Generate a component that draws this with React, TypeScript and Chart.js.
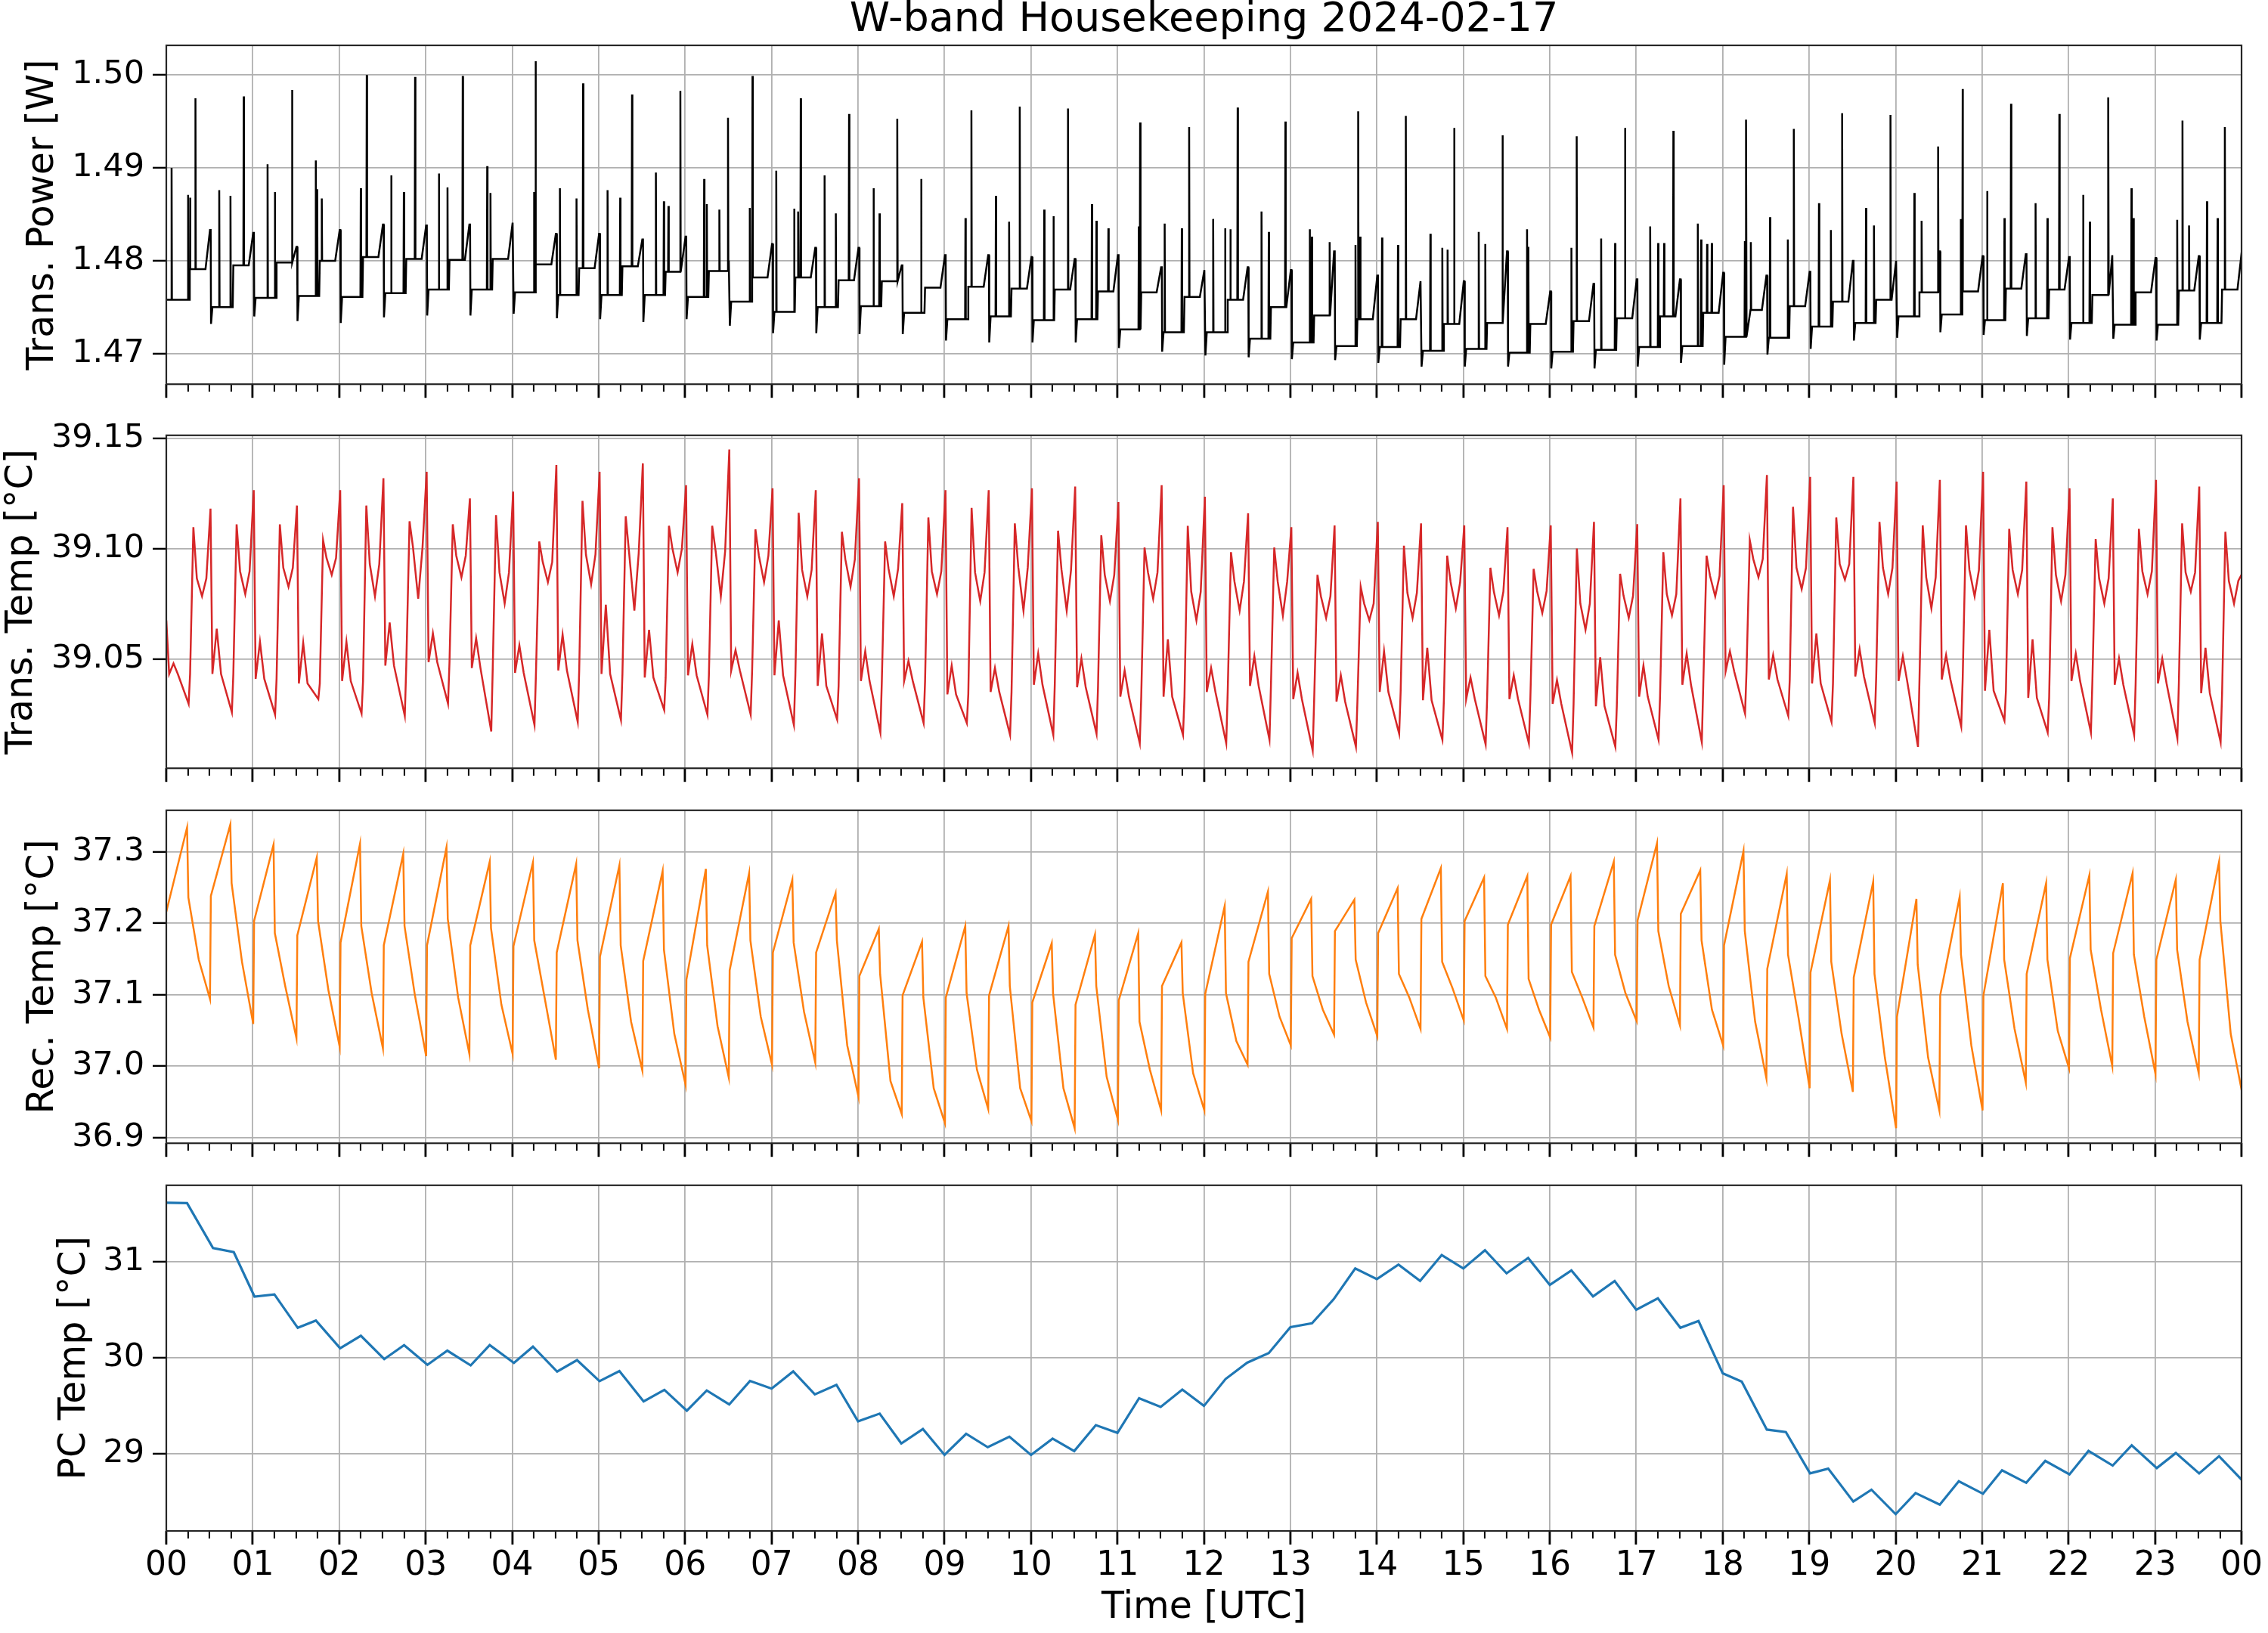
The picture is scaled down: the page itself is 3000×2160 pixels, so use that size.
import { useEffect, useRef } from 'react';
import { Chart, registerables } from 'chart.js';

Chart.register(...registerables);

const FONT = '"DejaVu Sans", "Liberation Sans", sans-serif';
const CYCLE = 0.5; // one heater cycle, hours

const hourLabels = [
  '00', '01', '02', '03', '04', '05', '06', '07', '08', '09', '10', '11',
  '12', '13', '14', '15', '16', '17', '18', '19', '20', '21', '22', '23', '00',
];

const powerTicks = [1.47, 1.48, 1.49, 1.5];
const transTicks = [39.05, 39.1, 39.15];
const recTicks = [36.9, 37.0, 37.1, 37.2, 37.3];
const pcTicks = [29, 30, 31];

// Trans. Power [W], one entry per half-hour cycle
const powerDip = [
  1.4758, 1.4732, 1.474, 1.4735, 1.4733, 1.4739, 1.4741, 1.4741, 1.4743, 1.4738,
  1.4737, 1.4734, 1.4737, 1.473, 1.4722, 1.4722, 1.4721, 1.4721, 1.4714, 1.4712,
  1.4712, 1.4712, 1.4706, 1.4702, 1.4698, 1.4696, 1.4694, 1.4693, 1.469, 1.4686,
  1.4686, 1.4686, 1.4684, 1.4684, 1.4686, 1.469, 1.4688, 1.4699, 1.4705, 1.4714,
  1.4717, 1.4723, 1.472, 1.4719, 1.4715, 1.4716, 1.4714, 1.4715,
];
const powerLow = [
  1.4758, 1.475, 1.476, 1.4762, 1.4761, 1.4765, 1.4769, 1.4769, 1.4766, 1.4763,
  1.4763, 1.4763, 1.4761, 1.4756, 1.4745, 1.475, 1.4751, 1.4744, 1.4737, 1.474,
  1.4736, 1.4737, 1.4726, 1.4723, 1.4723, 1.4716, 1.4712, 1.4708, 1.4707, 1.4703,
  1.4705, 1.4701, 1.4702, 1.4704, 1.4707, 1.4708, 1.4718, 1.4717, 1.4729, 1.4733,
  1.474, 1.4742, 1.4736, 1.4738, 1.4733, 1.4731, 1.4731, 1.4733,
];
const powerHigh = [
  1.4791, 1.4795, 1.4798, 1.48, 1.4804, 1.4802, 1.4801, 1.4802, 1.4796, 1.4792,
  1.4794, 1.4788, 1.4789, 1.4782, 1.4782, 1.4779, 1.4778, 1.4771, 1.4772, 1.477,
  1.4769, 1.4767, 1.4766, 1.4761, 1.4758, 1.475, 1.4741, 1.4737, 1.4737, 1.4732,
  1.4733, 1.4732, 1.4735, 1.4738, 1.474, 1.4744, 1.4747, 1.4751, 1.4756, 1.4758,
  1.4766, 1.4767, 1.477, 1.4769, 1.4763, 1.4766, 1.4768, 1.4769,
];
const powerRamp = [
  1.4833, 1.483, 1.4815, 1.4833, 1.4839, 1.4838, 1.4839, 1.4841, 1.4829, 1.4829,
  1.4823, 1.4826, 1.48, 1.4818, 1.4814, 1.4814, 1.4795, 1.4806, 1.4806, 1.4804,
  1.4802, 1.4806, 1.4793, 1.479, 1.4793, 1.479, 1.481, 1.4784, 1.4778, 1.4778,
  1.481, 1.4767, 1.4775, 1.478, 1.478, 1.4787, 1.4784, 1.4788, 1.48, 1.48,
  1.481, 1.4805, 1.4807, 1.4804, 1.4806, 1.4803, 1.4805, 1.4812,
];
// [hour, W]
const powerSpikes: [number, number][] = [
  [0.061, 1.49], [0.252, 1.4871], [0.275, 1.4868], [0.337, 1.4975],
  [0.612, 1.4876], [0.742, 1.487], [0.895, 1.4977],
  [1.171, 1.4904], [1.255, 1.4874], [1.454, 1.4984],
  [1.729, 1.4908], [1.745, 1.4877], [1.798, 1.4867],
  [2.249, 1.4878], [2.318, 1.5],
  [2.601, 1.4892], [2.747, 1.4874], [2.877, 1.4998],
  [3.152, 1.4894], [3.252, 1.4879], [3.428, 1.4999],
  [3.711, 1.4902], [3.749, 1.4873],
  [4.254, 1.4874], [4.269, 1.5015],
  [4.552, 1.4878], [4.744, 1.4867], [4.82, 1.4991],
  [5.103, 1.4876], [5.249, 1.4868], [5.386, 1.4979],
  [5.662, 1.4895], [5.754, 1.4864], [5.807, 1.4859], [5.945, 1.4983],
  [6.22, 1.4888], [6.251, 1.4861], [6.396, 1.4855], [6.496, 1.4954],
  [6.748, 1.4857], [6.779, 1.4999],
  [7.054, 1.4897], [7.261, 1.4856], [7.307, 1.4853], [7.337, 1.4975],
  [7.613, 1.4892], [7.743, 1.4851], [7.896, 1.4958],
  [8.179, 1.4878], [8.248, 1.4851], [8.454, 1.4953],
  [8.73, 1.4888],
  [9.242, 1.4846], [9.311, 1.4962],
  [9.594, 1.487], [9.747, 1.4842], [9.87, 1.4966],
  [10.153, 1.4855], [10.26, 1.4848], [10.428, 1.4964],
  [10.704, 1.4861], [10.757, 1.4843], [10.895, 1.4835],
  [11.247, 1.4837], [11.262, 1.4949],
  [11.546, 1.484], [11.744, 1.4835], [11.829, 1.4944],
  [12.107, 1.4845], [12.245, 1.4835], [12.306, 1.4834], [12.39, 1.4965],
  [12.666, 1.4853], [12.75, 1.4831], [12.942, 1.495],
  [13.225, 1.4834], [13.248, 1.4826], [13.455, 1.482],
  [13.753, 1.4817], [13.784, 1.4961], [13.807, 1.4826],
  [14.06, 1.4825], [14.244, 1.4817], [14.335, 1.4956],
  [14.619, 1.4829], [14.757, 1.4814], [14.818, 1.4812], [14.894, 1.4943],
  [15.178, 1.4831], [15.254, 1.4818], [15.453, 1.4935],
  [15.737, 1.4834], [15.752, 1.4815],
  [16.25, 1.4814], [16.311, 1.4934],
  [16.594, 1.4824], [16.755, 1.4819], [16.87, 1.4943],
  [17.161, 1.4837], [17.253, 1.4819], [17.322, 1.4819], [17.429, 1.494],
  [17.712, 1.484], [17.75, 1.4823], [17.819, 1.4818], [17.873, 1.4819],
  [18.256, 1.4821], [18.271, 1.4952], [18.325, 1.482],
  [18.547, 1.4847], [18.753, 1.4823], [18.822, 1.4942],
  [19.113, 1.4862], [19.251, 1.4833], [19.381, 1.4959],
  [19.657, 1.4857], [19.749, 1.4838], [19.94, 1.4957],
  [20.216, 1.4873], [20.3, 1.4843], [20.491, 1.4923],
  [20.752, 1.4845], [20.775, 1.4985],
  [21.058, 1.4875], [21.258, 1.4846], [21.334, 1.4969],
  [21.618, 1.4862], [21.755, 1.4846], [21.893, 1.4958],
  [22.168, 1.4871], [22.245, 1.4842], [22.46, 1.4976],
  [22.727, 1.4878], [22.75, 1.4846],
  [23.256, 1.4844], [23.317, 1.4951], [23.393, 1.4838],
  [23.6, 1.4864], [23.723, 1.4846], [23.807, 1.4944],
];

// Trans. Temp [°C], per cycle
const tempStart = 39.0675;
const tempLowMid = [
  39.0432, 39.0432, 39.041, 39.0389, 39.04, 39.047, 39.0486, 39.0459, 39.0437, 39.0448,
  39.0432, 39.0416, 39.0426, 39.0448, 39.0426, 39.0378, 39.04, 39.04, 39.034, 39.0351,
  39.0383, 39.0372, 39.0329, 39.0329, 39.0351, 39.0378, 39.0318, 39.0307, 39.0351, 39.0313,
  39.0318, 39.0318, 39.0297, 39.0286, 39.0329, 39.0383, 39.0443, 39.0407, 39.0389, 39.0421,
  39.04, 39.0407, 39.0356, 39.0324, 39.04, 39.0383, 39.0389, 39.0345,
];
const tempLowHi = [
  39.048, 39.0637, 39.0578, 39.0573, 39.0578, 39.0665, 39.0616, 39.0594, 39.0562, 39.061,
  39.0746, 39.0632, 39.0567, 39.054, 39.0675, 39.0616, 39.0535, 39.0491, 39.047, 39.0459,
  39.0524, 39.0502, 39.0448, 39.0589, 39.0459, 39.0513, 39.0437, 39.0426, 39.0535, 39.0551,
  39.0416, 39.0426, 39.0405, 39.0508, 39.047, 39.0524, 39.0535, 39.0518, 39.0616, 39.0545,
  39.0513, 39.0518, 39.0632, 39.0589, 39.0524, 39.0502, 39.0502, 39.0551,
];
const tempLowLo = [
  39.0297, 39.0259, 39.0248, 39.0318, 39.0253, 39.0242, 39.0297, 39.0172, 39.0201, 39.0215,
  39.0223, 39.0269, 39.0248, 39.0248, 39.0201, 39.0226, 39.0167, 39.021, 39.021, 39.0156,
  39.0156, 39.0161, 39.0118, 39.0156, 39.0118, 39.0134, 39.0085, 39.0102, 39.0161, 39.0134,
  39.0113, 39.0118, 39.0075, 39.0102, 39.0134, 39.0123, 39.0253, 39.0242, 39.0215, 39.021,
  39.0102, 39.0194, 39.0221, 39.0167, 39.0167, 39.0156, 39.014, 39.0123,
];
const tempHighA = [
  39.1097, 39.111, 39.111, 39.1038, 39.1195, 39.1124, 39.111, 39.1152, 39.1032, 39.1216,
  39.1146, 39.1103, 39.1103, 39.1087, 39.1162, 39.1076, 39.1032, 39.1141, 39.1184, 39.1114,
  39.1081, 39.106, 39.1005, 39.1103, 39.0984, 39.1005, 39.0881, 39.0827, 39.1013, 39.0968,
  39.0913, 39.0908, 39.1, 39.0886, 39.0984, 39.0968, 39.1038, 39.1189, 39.1141, 39.1121,
  39.1105, 39.1105, 39.1089, 39.1097, 39.1043, 39.1089, 39.1114, 39.1076,
];
const tempHighMid = [
  39.0865, 39.0897, 39.0913, 39.0957, 39.093, 39.1005, 39.0968, 39.0892, 39.094, 39.0973,
  39.0978, 39.1, 39.0989, 39.0968, 39.0903, 39.0951, 39.0908, 39.0897, 39.0892, 39.0916,
  39.0903, 39.0881, 39.0892, 39.0805, 39.0851, 39.0851, 39.0784, 39.0751, 39.08, 39.0848,
  39.0805, 39.0808, 39.0751, 39.0786, 39.0794, 39.0876, 39.0953, 39.0913, 39.093, 39.0913,
  39.087, 39.0903, 39.0903, 39.0881, 39.0865, 39.0897, 39.0892, 39.0854,
];
const tempHighLo = [
  39.0784, 39.0794, 39.0827, 39.0881, 39.0784, 39.0773, 39.087, 39.0751, 39.0848, 39.0838,
  39.0719, 39.0892, 39.0784, 39.0848, 39.0784, 39.0827, 39.0784, 39.0794, 39.0762, 39.0719,
  39.0719, 39.0762, 39.0773, 39.0675, 39.0719, 39.0697, 39.0686, 39.0675, 39.0686, 39.0729,
  39.0697, 39.0708, 39.0632, 39.0686, 39.0697, 39.0784, 39.087, 39.0816, 39.0859, 39.0794,
  39.0729, 39.0784, 39.0794, 39.0762, 39.0751, 39.0794, 39.0805, 39.0751,
];
const tempPeak = [
  39.1181, 39.1265, 39.1195, 39.1265, 39.1319, 39.1348, 39.1227, 39.1258, 39.1379, 39.1348,
  39.1386, 39.1287, 39.1449, 39.1273, 39.1265, 39.1319, 39.1206, 39.1265, 39.1265, 39.1273,
  39.1281, 39.1211, 39.1287, 39.1235, 39.116, 39.1097, 39.1105, 39.1121, 39.1114, 39.1105,
  39.1097, 39.1105, 39.1121, 39.1111, 39.1227, 39.1287, 39.1333, 39.1325, 39.1325, 39.1303,
  39.1311, 39.1348, 39.1303, 39.1273, 39.1227, 39.1311, 39.1281, 39.089,
];

// Rec. Temp [°C], per cycle
const recJump = [
  37.216, 37.238, 37.203, 37.183, 37.173, 37.169, 37.169, 37.169, 37.168, 37.159,
  37.153, 37.147, 37.121, 37.134, 37.159, 37.159, 37.126, 37.099, 37.096, 37.099,
  37.089, 37.086, 37.092, 37.112, 37.101, 37.146, 37.179, 37.189, 37.186, 37.206,
  37.203, 37.198, 37.198, 37.196, 37.204, 37.213, 37.169, 37.136, 37.131, 37.124,
  37.069, 37.099, 37.099, 37.129, 37.151, 37.158, 37.149, 37.149,
];
const recPeak = [
  37.334, 37.338, 37.31, 37.292, 37.311, 37.297, 37.306, 37.286, 37.285, 37.283,
  37.281, 37.273, 37.276, 37.27, 37.261, 37.242, 37.192, 37.174, 37.196, 37.196,
  37.172, 37.184, 37.186, 37.173, 37.224, 37.244, 37.234, 37.233, 37.249, 37.277,
  37.264, 37.266, 37.266, 37.286, 37.312, 37.274, 37.301, 37.269, 37.26, 37.258,
  37.234, 37.237, 37.256, 37.256, 37.267, 37.27, 37.261, 37.286,
];
const recDrop = [
  37.236, 37.256, 37.186, 37.203, 37.196, 37.196, 37.206, 37.193, 37.176, 37.176,
  37.169, 37.163, 37.169, 37.176, 37.173, 37.176, 37.129, 37.096, 37.102, 37.112,
  37.102, 37.112, 37.062, 37.102, 37.102, 37.129, 37.126, 37.149, 37.129, 37.146,
  37.126, 37.122, 37.132, 37.156, 37.189, 37.176, 37.189, 37.156, 37.146, 37.129,
  37.142, 37.156, 37.149, 37.149, 37.163, 37.156, 37.163, 37.203,
];
const recMid = [
  37.149, 37.146, 37.112, 37.106, 37.102, 37.099, 37.096, 37.086, 37.096, 37.079,
  37.062, 37.045, 37.056, 37.069, 37.076, 37.029, 36.979, 36.969, 36.995, 36.969,
  36.969, 36.985, 36.995, 36.99, 37.035, 37.069, 37.079, 37.089, 37.096, 37.109,
  37.096, 37.079, 37.096, 37.102, 37.112, 37.079, 37.062, 37.069, 37.045, 37.012,
  37.012, 37.029, 37.052, 37.049, 37.079, 37.069, 37.062, 37.045,
];
const recTrough = [
  37.094, 37.059, 37.039, 37.027, 37.025, 37.014, 37.017, 37.017, 37.009, 36.997,
  36.994, 36.974, 36.984, 37.002, 37.005, 36.957, 36.933, 36.92, 36.94, 36.923,
  36.913, 36.925, 36.938, 36.938, 37.002, 37.029, 37.044, 37.042, 37.052, 37.064,
  37.052, 37.04, 37.054, 37.063, 37.057, 37.029, 36.983, 36.969, 36.964, 36.913,
  36.938, 36.938, 36.977, 36.997, 37.0, 36.989, 36.99, 36.964,
];

// PC Temp [°C]
const pcHours = [
  0, 0.24, 0.54, 0.78, 1.02, 1.25, 1.52, 1.73, 2.01, 2.25,
  2.52, 2.75, 3.02, 3.25, 3.52, 3.74, 4.02, 4.24, 4.52, 4.75,
  5.01, 5.24, 5.52, 5.76, 6.02, 6.25, 6.51, 6.75, 7.0, 7.25,
  7.5, 7.75, 8.0, 8.25, 8.5, 8.75, 9.0, 9.25, 9.5, 9.75,
  10.0, 10.25, 10.5, 10.75, 11.0, 11.25, 11.5, 11.75, 12.0, 12.25,
  12.5, 12.75, 13.0, 13.25, 13.5, 13.75, 14.0, 14.25, 14.5, 14.75,
  15.0, 15.25, 15.5, 15.75, 16.0, 16.25, 16.5, 16.75, 17.0, 17.25,
  17.51, 17.72, 18.0, 18.22, 18.51, 18.73, 19.01, 19.22, 19.51, 19.72,
  20.0, 20.23, 20.51, 20.73, 21.01, 21.23, 21.51, 21.73, 22.01, 22.23,
  22.51, 22.73, 23.02, 23.24, 23.51, 23.74, 24.0,
];
const pcTemps = [
  31.615, 31.61, 31.143, 31.1, 30.638, 30.66, 30.313, 30.388, 30.1, 30.23,
  29.987, 30.133, 29.928, 30.075, 29.922, 30.133, 29.947, 30.117, 29.857, 29.977,
  29.758, 29.863, 29.547, 29.667, 29.45, 29.661, 29.515, 29.76, 29.68, 29.86,
  29.62, 29.72, 29.34, 29.42, 29.11, 29.26, 28.99, 29.21, 29.07, 29.18,
  28.99, 29.16, 29.03, 29.3, 29.22, 29.58, 29.49, 29.67, 29.5, 29.78,
  29.95, 30.05, 30.32, 30.36, 30.61, 30.93, 30.82, 30.97, 30.8, 31.07,
  30.93, 31.12, 30.88, 31.04, 30.76, 30.91, 30.64, 30.8, 30.5, 30.62,
  30.313, 30.384, 29.84, 29.752, 29.254, 29.228, 28.798, 28.847, 28.505, 28.628,
  28.374, 28.593, 28.472, 28.716, 28.586, 28.83, 28.7, 28.928, 28.788, 29.032,
  28.879, 29.09, 28.853, 29.01, 28.798, 28.977, 28.733,
];

type Pt = { x: number; y: number };

function powerSeries(): Pt[] {
  const pts: Pt[] = [];
  powerLow.forEach((lo, k) => {
    const d = 0.013 + k * CYCLE;
    if (k === 0) pts.push({ x: 0, y: lo });
    else pts.push({ x: d, y: powerRamp[k - 1] }, { x: d + 0.004, y: powerDip[k] }, { x: d + 0.02, y: lo });
    pts.push(
      { x: d + 0.255, y: lo },
      { x: d + 0.262, y: powerHigh[k] },
      { x: d + 0.44, y: powerHigh[k] },
      { x: d + 0.492, y: powerRamp[k] },
    );
  });
  powerSpikes.forEach(([t, v]) => {
    const k = Math.min(47, Math.max(0, Math.floor((t - 0.013) / CYCLE)));
    const base = t - (0.013 + k * CYCLE) < 0.258 ? powerLow[k] : powerHigh[k];
    pts.push({ x: t - 0.004, y: base }, { x: t, y: v }, { x: t + 0.004, y: base });
  });
  return pts.sort((a, b) => a.x - b.x);
}

function transSeries(): Pt[] {
  const pts: Pt[] = [{ x: 0, y: tempStart }];
  tempLowMid.forEach((mid, k) => {
    const d = 0.013 + k * CYCLE;
    pts.push(
      { x: d + 0.02, y: mid },
      { x: d + 0.07, y: tempLowHi[k] },
      { x: d + 0.12, y: mid },
      { x: d + 0.245, y: tempLowLo[k] },
      { x: d + 0.262, y: mid },
      { x: d + 0.3, y: tempHighA[k] },
      { x: d + 0.34, y: tempHighMid[k] },
      { x: d + 0.4, y: tempHighLo[k] },
      { x: d + 0.45, y: tempHighMid[k] },
      { x: d + 0.498, y: tempPeak[k] },
    );
  });
  return pts;
}

function recSeries(): Pt[] {
  const pts: Pt[] = [{ x: 0, y: recJump[0] }];
  recPeak.forEach((pk, k) => {
    const d = 0.005 + k * CYCLE;
    if (k > 0) pts.push({ x: d, y: recTrough[k - 1] }, { x: d + 0.01, y: recJump[k] });
    pts.push({ x: d + 0.235, y: pk }, { x: d + 0.25, y: recDrop[k] }, { x: d + 0.37, y: recMid[k] });
  });
  pts.push({ x: 0.005 + recPeak.length * CYCLE, y: recTrough[recTrough.length - 1] });
  return pts;
}

function pcSeries(): Pt[] {
  return pcHours.map((h, i) => ({ x: h, y: pcTemps[i] }));
}

const frame = {
  id: 'frame',
  afterDraw(chart: any) {
    const { ctx, chartArea: a } = chart;
    ctx.save();
    ctx.strokeStyle = '#262626';
    ctx.lineWidth = 2.2;
    ctx.strokeRect(a.left, a.top, a.right - a.left, a.bottom - a.top);
    ctx.restore();
  },
};

type PanelSpec = {
  top: number;
  height: number;
  padTop: number;
  xHeight: number;
  showX: boolean;
  title?: string;
  label: string;
  labelPad: number;
  min: number;
  max: number;
  ticks: number[];
  decimals: number;
  color: string;
  width: number;
  series: () => Pt[];
};

const xTickValues = [...hourLabels.keys()].flatMap((h) =>
  h < hourLabels.length - 1 ? [h, h + 0.25, h + 0.5, h + 0.75] : [h],
);

function makeConfig(p: PanelSpec): any {
  const major = (ctx: any) => Number.isInteger(ctx.tick?.value);
  return {
    type: 'line',
    data: {
      datasets: [
        {
          data: p.series(),
          borderColor: p.color,
          borderWidth: p.width,
          pointRadius: 0,
          fill: false,
          tension: 0,
        },
      ],
    },
    options: {
      animation: false,
      responsive: false,
      devicePixelRatio: 1,
      events: [],
      layout: { padding: { top: p.padTop, right: 35, bottom: 0, left: 0 } },
      plugins: {
        legend: { display: false },
        tooltip: { enabled: false },
        title: {
          display: !!p.title,
          text: p.title,
          fullSize: false,
          color: '#000',
          font: { family: FONT, size: 54, weight: 'normal', lineHeight: 1 },
          padding: { top: 0, bottom: 6 },
        },
      },
      scales: {
        x: {
          type: 'linear',
          min: 0,
          max: 24,
          afterBuildTicks: (s: any) => {
            s.ticks = xTickValues.map((v) => ({ value: v }));
          },
          afterFit: (s: any) => {
            s.height = p.xHeight;
          },
          border: { display: false },
          grid: {
            color: (ctx: any) => (major(ctx) ? '#b0b0b0' : 'rgba(0,0,0,0)'),
            lineWidth: 1.8,
            drawTicks: true,
            tickLength: 18,
            tickColor: '#000',
            tickWidth: (ctx: any) => (major(ctx) ? 2.8 : 2),
            tickBorderDash: (ctx: any) => (major(ctx) ? [] : [10, 60]),
          },
          ticks: {
            display: p.showX,
            autoSkip: false,
            maxRotation: 0,
            padding: 2,
            color: '#000',
            font: { family: FONT, size: 44 },
            callback: (v: any) => (Number.isInteger(v) ? hourLabels[v] : ''),
          },
          title: {
            display: p.showX,
            text: 'Time [UTC]',
            color: '#000',
            font: { family: FONT, size: 49 },
            padding: { top: 0, bottom: 3 },
          },
        },
        y: {
          type: 'linear',
          min: p.min,
          max: p.max,
          afterBuildTicks: (s: any) => {
            s.ticks = p.ticks.map((v) => ({ value: v }));
          },
          afterFit: (s: any) => {
            s.width = 220;
          },
          border: { display: false },
          grid: {
            color: '#b0b0b0',
            lineWidth: 1.8,
            drawTicks: true,
            tickLength: 18,
            tickColor: '#000',
            tickWidth: 2.4,
          },
          ticks: {
            padding: 11,
            color: '#000',
            font: { family: FONT, size: 43 },
            callback: (v: any) => Number(v).toFixed(p.decimals),
          },
          title: {
            display: true,
            text: p.label,
            color: '#000',
            font: { family: FONT, size: 49 },
            padding: { top: p.labelPad, bottom: 0 },
          },
        },
      },
    },
    plugins: [frame],
  };
}

const panels: PanelSpec[] = [
  {
    top: 0, height: 545, padTop: 0, xHeight: 20, showX: false,
    title: 'W-band Housekeeping 2024-02-17',
    label: 'Trans. Power [W]', labelPad: 28,
    min: 1.4667, max: 1.5032, ticks: powerTicks, decimals: 2,
    color: '#000000', width: 2.5, series: powerSeries,
  },
  {
    top: 539, height: 514, padTop: 30, xHeight: 20, showX: false,
    label: 'Trans. Temp [°C]', labelPad: 0,
    min: 39.0005, max: 39.1513, ticks: transTicks, decimals: 2,
    color: '#d62728', width: 2.5, series: transSeries,
  },
  {
    top: 1035, height: 514, padTop: 30, xHeight: 20, showX: false,
    label: 'Rec. Temp [°C]', labelPad: 28,
    min: 36.892, max: 37.358, ticks: recTicks, decimals: 1,
    color: '#ff7f0e', width: 2.5, series: recSeries,
  },
  {
    top: 1531, height: 629, padTop: 30, xHeight: 135, showX: true,
    label: 'PC Temp [°C]', labelPad: 70,
    min: 28.199, max: 31.796, ticks: pcTicks, decimals: 0,
    color: '#1f77b4', width: 3.2, series: pcSeries,
  },
];

function Panel({ spec }: { spec: PanelSpec }) {
  const ref = useRef<HTMLCanvasElement | null>(null);

  useEffect(() => {
    if (!ref.current) return;
    const chart = new Chart(ref.current, makeConfig(spec));
    return () => chart.destroy();
  }, [spec]);

  return (
    <canvas
      ref={ref}
      width={3000}
      height={spec.height}
      style={{ position: 'absolute', left: 0, top: spec.top, width: 3000, height: spec.height }}
    />
  );
}

export default function App() {
  return (
    <div style={{ position: 'relative', width: 3000, height: 2160, background: '#fff' }}>
      <style>{'body{margin:0;background:#fff}'}</style>
      {panels.map((p) => (
        <Panel key={p.label} spec={p} />
      ))}
    </div>
  );
}
